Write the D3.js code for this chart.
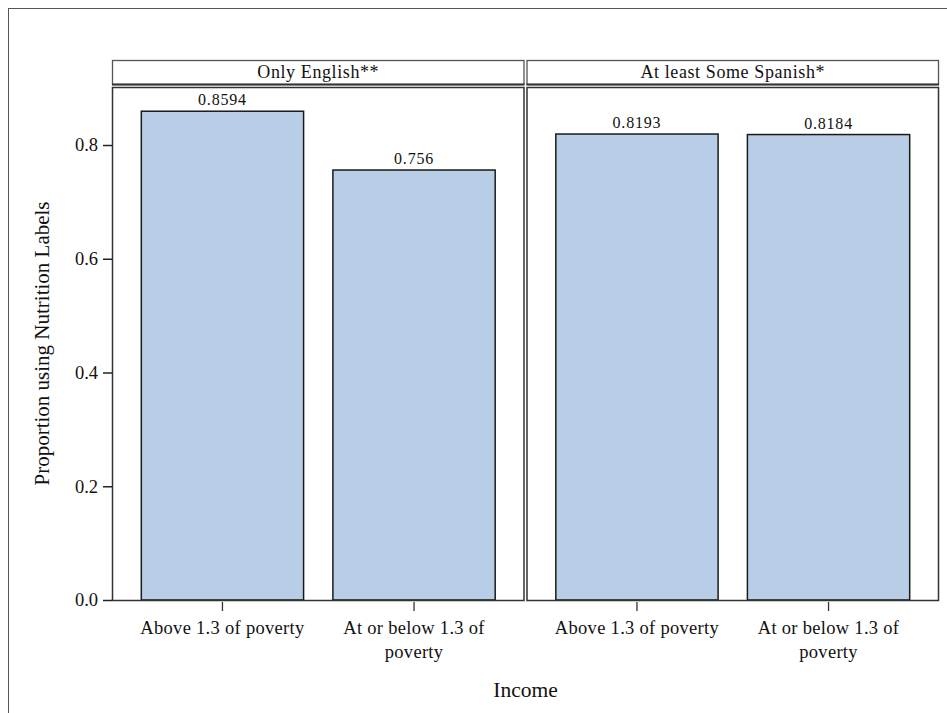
<!DOCTYPE html>
<html>
<head>
<meta charset="utf-8">
<script src="https://cdn.jsdelivr.net/npm/d3@7"></script>
<style>
  body { margin: 0; background: #fff; }
  svg text { font-family: "Liberation Serif", "Times New Roman", serif; }
</style>
</head>
<body>
<div id="chart"></div>
<script>
// data
const panels = ["Only English**", "At least Some Spanish*"];
const incomes = ["Above 1.3 of poverty", "At or below 1.3 of poverty"];
const englishValues = [0.8594, 0.756];
const spanishValues = [0.8193, 0.8184];
const valueLabels = [["0.8594", "0.756"], ["0.8193", "0.8184"]];
const yTicks = [0, 0.2, 0.4, 0.6, 0.8];

const Width = 947, Height = 713;
const Plot = {left: 112, right: 939, top: 87, bottom: 600};
const HeaderTop = 60, HeaderBottom = 85;
const PanelGap = 2;
const Serif = "Liberation Serif, Times New Roman, serif";

const svg = d3.select("#chart").append("svg")
    .attr("width", Width).attr("height", Height);

// outer frame, only top and left edges show in the picture
svg.append("rect").attr("x", 8.5).attr("y", 8.5)
    .attr("width", Width + 20).attr("height", Height + 20)
    .attr("fill", "none").attr("stroke", "#555").attr("stroke-width", 1);

const panelScale = d3.scaleBand().domain(panels)
    .range([Plot.left, Plot.right]).paddingInner(PanelGap / (Plot.right - Plot.left) * 2);

const y = d3.scaleLinear().domain([0, 0.902]).range([Plot.bottom, Plot.top]);

const allValues = [englishValues, spanishValues];

panels.forEach((p, pi) => {
    const x0 = panelScale(p), pw = panelScale.bandwidth();
    const x = d3.scaleBand().domain(incomes).range([x0, x0 + pw]).padding(0.153);
    const g = svg.append("g");

    // header strip
    g.append("rect").attr("x", x0 + 0.5).attr("y", HeaderTop + 0.5)
        .attr("width", pw - 1).attr("height", HeaderBottom - HeaderTop - 1)
        .attr("fill", "#fff").attr("stroke", "#555").attr("stroke-width", 1.3);
    g.append("line").attr("x1", x0).attr("x2", x0 + pw)
        .attr("y1", HeaderBottom - 0.5).attr("y2", HeaderBottom - 0.5)
        .attr("stroke", "#333").attr("stroke-width", 2);
    g.append("text").attr("x", x0 + pw / 2).attr("y", HeaderTop + 18)
        .attr("text-anchor", "middle").attr("font-size", 18).attr("letter-spacing", 0.6)
        .attr("font-family", Serif).attr("fill", "#111")
        .text(p);

    // bars
    const data = incomes.map((c, i) => ({cat: c, v: allValues[pi][i], lab: valueLabels[pi][i]}));
    g.selectAll("rect.bar").data(data).join("rect").attr("class", "bar")
        .attr("x", d => x(d.cat)).attr("width", x.bandwidth())
        .attr("y", d => y(d.v)).attr("height", d => y(0) - y(d.v))
        .attr("fill", "#B8CEE6").attr("stroke", "#1a1a1a").attr("stroke-width", 1.5);

    g.selectAll("text.val").data(data).join("text").attr("class", "val")
        .attr("x", d => x(d.cat) + x.bandwidth() / 2).attr("y", d => y(d.v) - 6)
        .attr("text-anchor", "middle").attr("font-size", 16).attr("letter-spacing", 0.8)
        .attr("font-family", Serif).attr("fill", "#111")
        .text(d => d.lab);

    // panel frame
    g.append("rect").attr("x", x0 + 0.5).attr("y", Plot.top + 0.5)
        .attr("width", pw - 1).attr("height", Plot.bottom - Plot.top)
        .attr("fill", "none").attr("stroke", "#333").attr("stroke-width", 1.5);

    // x axis
    const axisX = d3.axisBottom(x).tickSize(11).tickPadding(10);
    const ax = g.append("g").attr("transform", `translate(0, ${Plot.bottom})`).call(axisX);
    ax.select(".domain").remove();
    ax.selectAll(".tick line").attr("stroke", "#333").attr("stroke-width", 1.3).attr("y1", 2).attr("y2", 11);
    ax.selectAll(".tick text").attr("font-size", 18.5).attr("letter-spacing", 0.3).attr("fill", "#111")
        .attr("font-family", Serif)
        .call(wrap, 180);
});

// y axis
const axisY = d3.axisLeft(y).tickValues(yTicks).tickFormat(d3.format(".1f")).tickSize(9).tickPadding(5);
const ay = svg.append("g").attr("transform", `translate(${Plot.left}, 0)`).call(axisY);
ay.select(".domain").remove();
ay.selectAll(".tick line").attr("stroke", "#222").attr("stroke-width", 1.5);
ay.selectAll(".tick text").attr("font-size", 18.5).attr("fill", "#111")
    .attr("font-family", Serif);

// axis titles
svg.append("text").attr("transform", `translate(49, ${(Plot.top + Plot.bottom) / 2}) rotate(-90)`)
    .attr("text-anchor", "middle").attr("font-size", 21).attr("font-family", Serif).attr("fill", "#111")
    .text("Proportion using Nutrition Labels");
svg.append("text").attr("x", (Plot.left + Plot.right) / 2).attr("y", 697)
    .attr("text-anchor", "middle").attr("font-size", 21.5).attr("font-family", Serif).attr("fill", "#111")
    .text("Income");

function wrap(texts, width)
{
    texts.each(function()
    {
        const text = d3.select(this);
        const words = text.text().split(/\s+/);
        const yy = text.attr("y"), dy = parseFloat(text.attr("dy"));
        text.text(null);
        let line = [];
        let lineNo = 0;
        let tspan = text.append("tspan").attr("x", 0).attr("y", yy).attr("dy", dy + "em");
        words.forEach(w => {
            line.push(w);
            tspan.text(line.join(" "));
            if (tspan.node().getComputedTextLength() > width && line.length > 1)
            {
                line.pop();
                tspan.text(line.join(" "));
                line = [w];
                lineNo++;
                tspan = text.append("tspan").attr("x", 0).attr("y", yy)
                    .attr("dy", (lineNo * 1.3 + dy) + "em").text(w);
            }
        });
    });
}
</script>
</body>
</html>
